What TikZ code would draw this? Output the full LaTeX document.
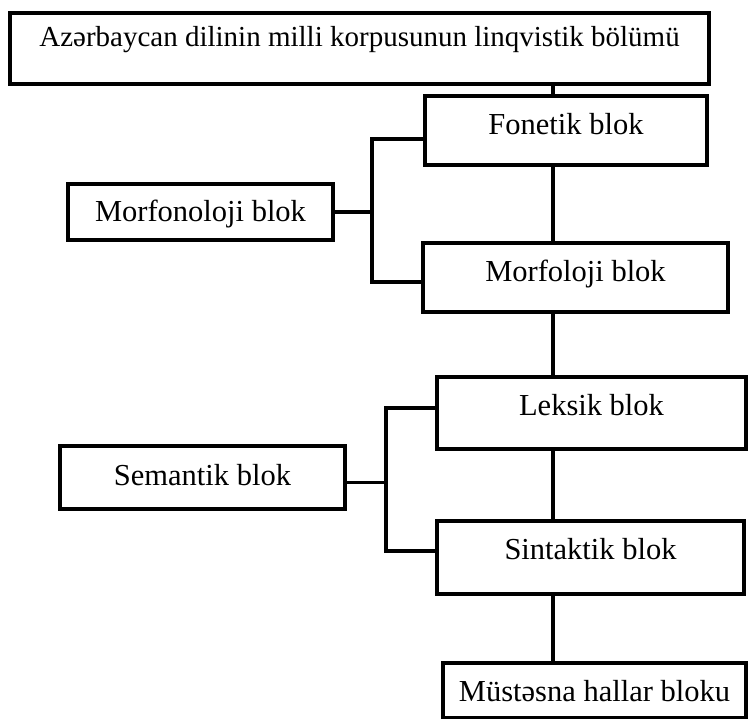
\documentclass[tikz,border=0pt]{standalone}
\usepackage{fontspec}
\setmainfont{Liberation Serif}
\usepackage{tikz}
\newcommand{\blokfont}{\fontsize{30.5}{36}\selectfont}
\tikzstyle{blok} = [draw=black, line width=4pt, fill=white, rectangle,
inner sep=0pt, font=\blokfont]
\tikzstyle{xett} = [draw=black, line width=3.5pt]

\begin{document}
\begin{tikzpicture}[x=1pt, y=-1pt]
        \useasboundingbox (0,0) rectangle (748,719);
        \node [blok, font=\fontsize{29}{36}\selectfont, minimum width=699, text height=34, text depth=37] (top) at (359.5,48.5) {Azərbaycan dilinin milli korpusunun linqvistik bölümü};
        \node [blok, minimum width=282, text height=39, text depth=30] (fon) at (566,130.5) {Fonetik blok};
        \node [blok, minimum width=265, text height=38, text depth=18] (mfl) at (200.5,212) {Morfonoloji blok};
        \node [blok, minimum width=305, text height=39, text depth=30] (mfo) at (575.5,277.5) {Morfoloji blok};
        \node [blok, minimum width=309, text height=39, text depth=33] (lek) at (591.5,413) {Leksik blok};
        \node [blok, minimum width=285, text height=40, text depth=23] (sem) at (202.5,477.5) {Semantik blok};
        \node [blok, minimum width=307, text height=39, text depth=34] (sin) at (590.5,557.5) {Sintaktik blok};
        \node [blok, minimum width=303, text height=38, text depth=17] (mus) at (594.5,690.5) {Müstəsna hallar bloku};

        \coordinate (dayaq) at (553,0);
        \coordinate (mfl top) at (372,139);
        \coordinate (mfl alt) at (372,282);
        \coordinate (sem top) at (386,408);
        \coordinate (sem alt) at (386,551);

        \draw [xett] (top.south -| dayaq) -- (fon.north -| dayaq);
        \draw [xett] (fon.south -| dayaq) -- (mfo.north -| dayaq);
        \draw [xett] (mfo.south -| dayaq) -- (lek.north -| dayaq);
        \draw [xett] (lek.south -| dayaq) -- (sin.north -| dayaq);
        \draw [xett] (sin.south -| dayaq) -- (mus.north -| dayaq);

        \draw [xett] (mfl.east) -- (mfl.east -| mfl top);
        \draw [xett] (fon.west |- mfl top) -- (mfl top) -- (mfl alt) -- (mfo.west |- mfl alt);
        \draw [xett] ([yshift=-5pt]sem.east) -- ([yshift=-5pt]sem.east -| sem top);
        \draw [xett] (lek.west |- sem top) -- (sem top) -- (sem alt) -- (sin.west |- sem alt);
    \end{tikzpicture}
\end{document}
